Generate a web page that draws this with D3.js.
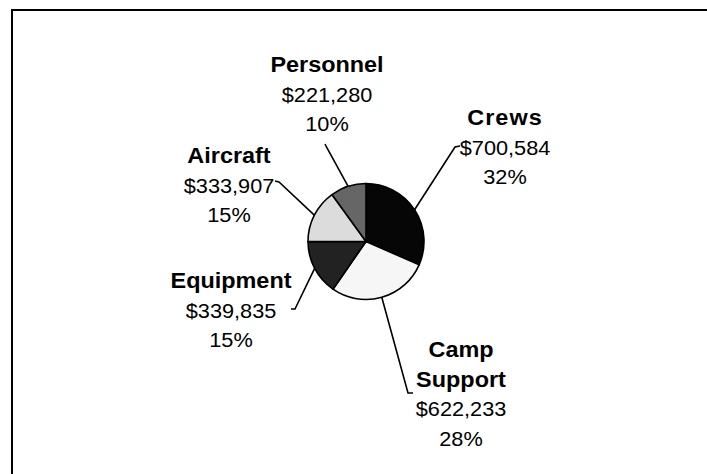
<!DOCTYPE html>
<html>
<head>
<meta charset="utf-8">
<script src="https://cdn.jsdelivr.net/npm/d3@7"></script>
<style>
  html, body { margin: 0; padding: 0; background: #fff; }
  svg { display: block; }
  text { font-family: "Liberation Sans", Arial, sans-serif; fill: #000; }
</style>
</head>
<body>
<svg id="chart" width="707" height="474"></svg>
<script>
// Cost categories, in clockwise order from 12 o'clock
const categories = ["Crews", "Camp Support", "Equipment", "Aircraft", "Personnel"];
const costs = [700584, 622233, 339835, 333907, 221280];
const sliceColors = ["#060606", "#f6f6f6", "#222222", "#dcdcdc", "#666666"];

// Label block placement: centre x, first baseline, leader elbow and tip
const labelLayout = [
  { x: 505, y: 125, lines: ["Crews"],           elbow: [455, 147], tip: [460, 146] },
  { x: 461, y: 357, lines: ["Camp", "Support"], elbow: [408, 393], tip: [413, 393] },
  { x: 231, y: 288, lines: ["Equipment"],       elbow: [295, 309], tip: [291, 309] },
  { x: 229, y: 163, lines: ["Aircraft"],        elbow: [279, 182], tip: [275, 181] },
  { x: 327, y: 72,  lines: ["Personnel"],       elbow: [327, 148], tip: [325, 144] }
];

const svg = d3.select("#chart");
const W = 707, H = 474;

// Chart frame (runs past the right and bottom edges)
svg.append("rect")
  .attr("x", 12).attr("y", 10)
  .attr("width", W + 20).attr("height", H + 20)
  .attr("fill", "none").attr("stroke", "#000").attr("stroke-width", 2);

const cx = 366, cy = 241.5, r = 58;
const total = d3.sum(costs);
const fmtMoney = d3.format("$,");
const pct = v => Math.round(v / total * 100) + "%";

const data = categories.map((c, i) => ({ name: c, value: costs[i], color: sliceColors[i], layout: labelLayout[i] }));

const pie = d3.pie().value(d => d.value).sort(null);
const arcs = pie(data);
const arc = d3.arc().innerRadius(0).outerRadius(r);

const g = svg.append("g").attr("transform", `translate(${cx},${cy})`);
g.selectAll("path.slice")
  .data(arcs)
  .join("path")
  .attr("class", "slice")
  .attr("d", arc)
  .attr("fill", d => d.data.color)
  .attr("stroke", "#000")
  .attr("stroke-width", 1.6)
  .attr("stroke-linejoin", "round");

// Leader lines from each slice's outer edge to its label
const edgeArc = d3.arc().innerRadius(r).outerRadius(r);
svg.selectAll("path.leader")
  .data(arcs)
  .join("path")
  .attr("class", "leader")
  .attr("d", d => {
    const [ex, ey] = edgeArc.centroid(d);
    const L = d.data.layout;
    return `M${cx + ex},${cy + ey}L${L.elbow[0]},${L.elbow[1]}L${L.tip[0]},${L.tip[1]}`;
  })
  .attr("fill", "none")
  .attr("stroke", "#000")
  .attr("stroke-width", 1.6);

// Data labels: bold name lines, then cost and share
const lineH = 29.5;
const labels = svg.selectAll("g.label")
  .data(arcs)
  .join("g")
  .attr("class", "label")
  .attr("transform", d => `translate(${d.data.layout.x},${d.data.layout.y})`);

labels.each(function(d) {
  const sel = d3.select(this);
  const rows = d.data.layout.lines.map(t => ({ t, bold: true }))
    .concat([{ t: fmtMoney(d.data.value), bold: false }, { t: pct(d.data.value), bold: false }]);
  rows.forEach((row, k) => {
    sel.append("text")
      .attr("transform", `translate(0,${k * lineH}) scale(${row.bold ? 1.09 : 1.06},1)`)
      .attr("text-anchor", "middle")
      .attr("font-size", row.bold ? 21.5 : 20.5)
      .attr("font-weight", row.bold ? "bold" : "normal")
      .attr("letter-spacing", row.t === "Crews" ? 1 : 0)
      .text(row.t);
  });
});
</script>
</body>
</html>
